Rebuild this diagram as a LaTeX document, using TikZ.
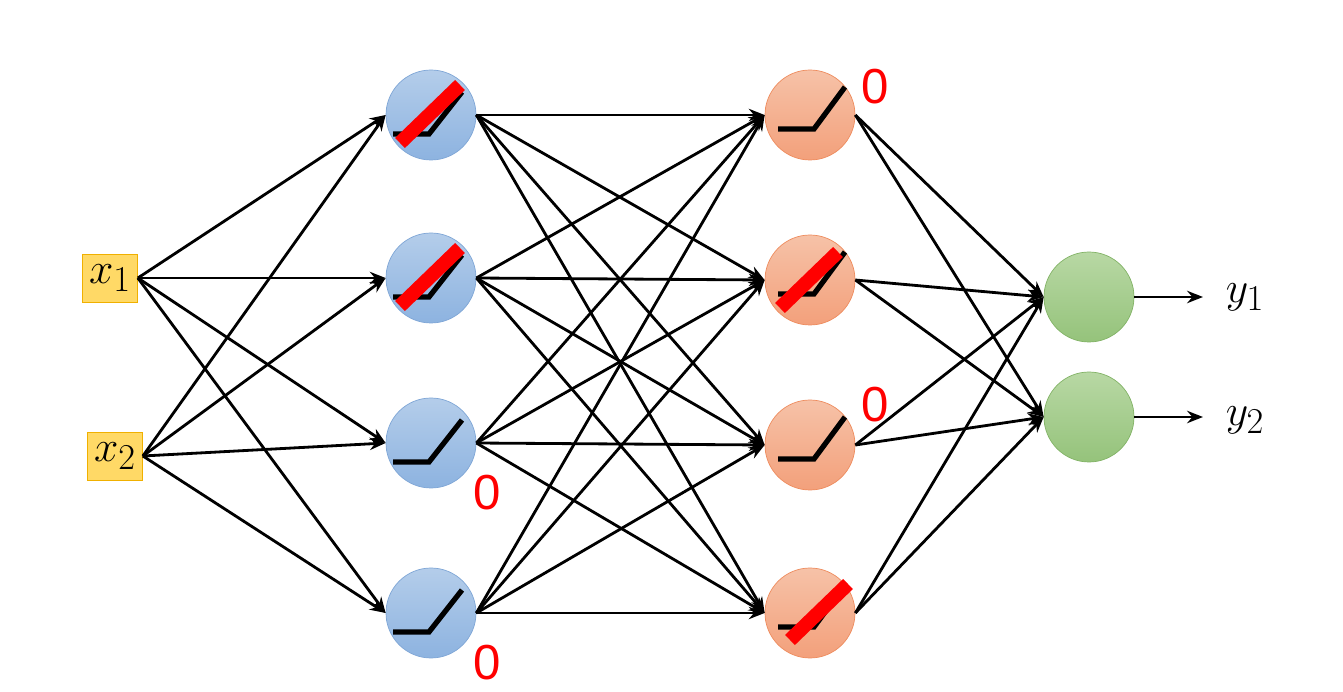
\documentclass[tikz,border=0pt]{standalone}
\usetikzlibrary{arrows.meta}
\usepackage{fontspec}
\newfontfamily\sans{Liberation Sans}
\definecolor{bT}{HTML}{B4CDEA}\definecolor{bB}{HTML}{8DB3E0}\definecolor{bD}{HTML}{7FA6D6}
\definecolor{oT}{HTML}{F6C2A8}\definecolor{oB}{HTML}{F3A07B}\definecolor{oD}{HTML}{EE8C5E}
\definecolor{gT}{HTML}{B8D8A4}\definecolor{gB}{HTML}{95C37B}\definecolor{gD}{HTML}{82B366}
\definecolor{yF}{HTML}{FFD966}\definecolor{yD}{HTML}{F0B000}
\begin{document}
\begin{tikzpicture}[x=0.02cm,y=-0.02cm,
 neu/.style={circle,minimum size=90*0.02cm,inner sep=0pt},
 bl/.style={neu,top color=bT,bottom color=bB,draw=bD},
 or/.style={neu,top color=oT,bottom color=oB,draw=oD},
 gr/.style={neu,top color=gT,bottom color=gB,draw=gD},
 inp/.style={fill=yF,draw=yD,minimum width=55*0.02cm,minimum height=48*0.02cm,inner sep=0pt,font=\Huge},
 e/.style={-{Stealth[length=9pt,width=7pt]},line width=1.6pt},
 zero/.style={text=red,font=\sans\fontsize{28}{28}\selectfont}]
\useasboundingbox (0,0) rectangle (1343,692);
\node[inp] (x1) at (110,278) {$x_1$};
\node[inp] (x2) at (115,456) {$x_2$};
\foreach \i/\y in {1/115,2/278,3/443,4/613}{
 \node[bl] (a\i) at (431,\y) {};
 \draw[line width=3pt] (393,\y+19) -- (429,\y+19) -- (462,\y-23);}
\foreach \i/\y in {1/115,2/280,3/445,4/613}{
 \node[or] (b\i) at (810,\y) {};
 \draw[line width=3pt] (778,\y+14) -- (814,\y+14) -- (845,\y-28);}
\node[gr] (c1) at (1089,297) {};
\node[gr] (c2) at (1089,417) {};
\draw[red,line width=8pt] (400,143) -- (460,85);
\draw[red,line width=8pt] (400,306) -- (460,248);
\draw[red,line width=8pt] (780,308) -- (838,252);
\draw[red,line width=8pt] (790,640) -- (848,584);
\foreach \s in {x1,x2}\foreach \t in {a1,a2,a3,a4}\draw[e] (\s.east) -- (\t.west);
\foreach \s in {a1,a2,a3,a4}\foreach \t in {b1,b2,b3,b4}\draw[e] (\s.east) -- (\t.west);
\foreach \s in {b1,b2,b3,b4}\foreach \t in {c1,c2}\draw[e] (\s.east) -- (\t.west);
\coordinate (o1) at (1203,297); \coordinate (o2) at (1203,417);
\draw[e] (c1.east) -- (o1); \draw[e] (c2.east) -- (o2);
\node[font=\Huge] (y1) at (1245,297) {$y_1$};
\node[font=\Huge] (y2) at (1245,420) {$y_2$};
\node[zero] (z1) at (875,87) {0};
\node[zero] (z2) at (875,405) {0};
\node[zero] (z3) at (487,493) {0};
\node[zero] (z4) at (487,663) {0};
\end{tikzpicture}
\end{document}
